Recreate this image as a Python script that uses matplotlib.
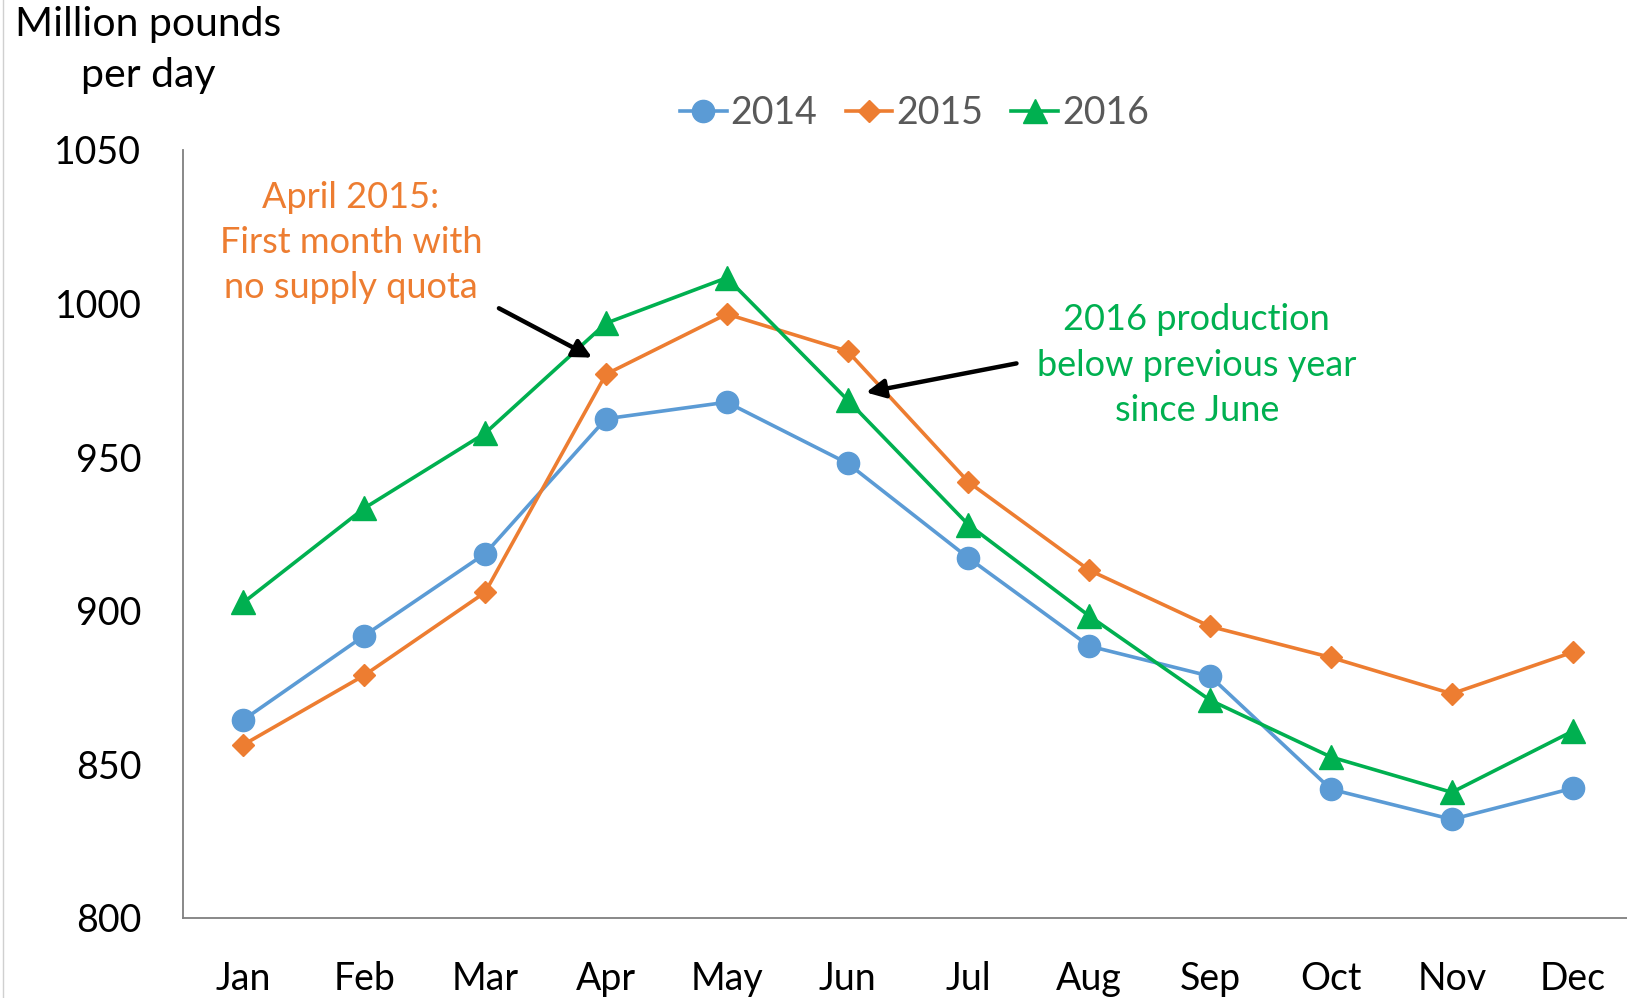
import matplotlib

matplotlib.use("Agg")

import matplotlib.pyplot as plt
from matplotlib.lines import Line2D

plt.rcParams["font.family"] = ["Lato", "DejaVu Sans"]

months = ["Jan", "Feb", "Mar", "Apr", "May", "Jun", "Jul", "Aug", "Sep", "Oct", "Nov", "Dec"]
prod_2014 = [864.5, 891.9, 918.6, 962.5, 967.9, 948.0, 917.2, 888.5, 878.7, 841.9, 832.1, 842.2]
prod_2015 = [856.4, 879.0, 906.0, 977.0, 996.6, 984.5, 941.9, 913.2, 894.9, 884.8, 873.0, 886.5]
prod_2016 = [902.7, 933.4, 957.8, 993.6, 1008.4, 968.6, 928.0, 898.3, 870.9, 852.4, 840.9, 860.8]
y_ticks = [800, 850, 900, 950, 1000, 1050]

BLUE = "#5B9BD5"
ORANGE = "#ED7D31"
GREEN = "#00B050"

fig = plt.figure(figsize=(16.27, 9.98), dpi=100)
ax = fig.add_axes([0.1125, 0.0802, 0.8875, 0.7695])

x = list(range(len(months)))
ax.plot(x, prod_2014, color=BLUE, lw=2.6, marker="o", ms=16, label="2014")
ax.plot(x, prod_2015, color=ORANGE, lw=2.6, marker="D", ms=11.5, label="2015")
ax.plot(x, prod_2016, color=GREEN, lw=2.6, marker="^", ms=17, label="2016")

ax.set_xlim(-0.5, 11.45)
ax.set_ylim(800, 1050)
ax.set_yticks(y_ticks)
ax.set_xticks(x)
ax.set_xticklabels(months)
ax.tick_params(axis="both", length=0, labelsize=27)
ax.tick_params(axis="y", pad=30)
ax.tick_params(axis="x", pad=31)
for side in ["top", "right"]:
    ax.spines[side].set_visible(False)
for side in ["left", "bottom"]:
    ax.spines[side].set_color("#7f7f7f")
    ax.spines[side].set_linewidth(1.3)

ax.legend(loc="center", bbox_to_anchor=(0.562, 0.887), bbox_transform=fig.transFigure,
          ncol=3, frameon=False, fontsize=27, handlelength=1.25, handletextpad=0.1,
          columnspacing=0.75, labelcolor="#595959")

ax.text(0.89, 1020, "April 2015:\nFirst month with\nno supply quota", color=ORANGE,
        fontsize=26, ha="center", va="center", linespacing=1.45)
ax.annotate("", xy=(2.906, 982), xytext=(2.094, 998.9),
            arrowprops=dict(arrowstyle="-|>", color="black", lw=3.2, mutation_scale=28))

ax.text(7.89, 980, "2016 production\nbelow previous year\nsince June", color=GREEN,
        fontsize=26, ha="center", va="center", linespacing=1.45)
ax.annotate("", xy=(5.13, 970.9), xytext=(6.42, 980.7),
            arrowprops=dict(arrowstyle="-|>", color="black", lw=3.2, mutation_scale=28))

fig.text(0.091, 0.95, "Million pounds\nper day", fontsize=29.5, ha="center", va="center",
         linespacing=1.45)

fig.add_artist(Line2D([0.002, 0.002], [0, 1], transform=fig.transFigure, color="#d0d0d0", lw=1))

fig.savefig("out.png", dpi=100)
